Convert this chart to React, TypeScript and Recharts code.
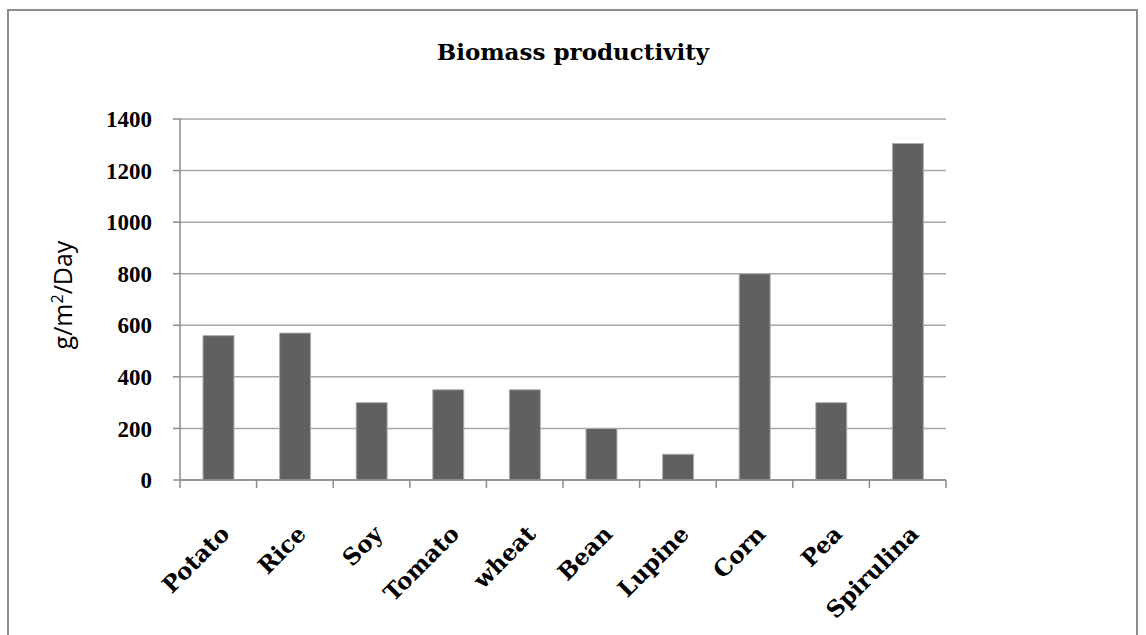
import { BarChart, Bar, XAxis, YAxis, CartesianGrid } from 'recharts';

// Crop names along the x axis
const crops = ['Potato', 'Rice', 'Soy', 'Tomato', 'wheat', 'Bean', 'Lupine', 'Corn', 'Pea', 'Spirulina'];

// Biomass productivity, g/m2/day
const productivity = [560, 570, 300, 350, 350, 200, 100, 800, 300, 1305];

const yTicks = [0, 200, 400, 600, 800, 1000, 1200, 1400];

const data = crops.map((name, i) => ({ name, value: productivity[i] }));

const SERIF = '"Liberation Serif", serif';
const WIDE_SERIF = '"DejaVu Serif", serif';
const AXIS_GREY = '#8c8c8c';
const TICK_SIZE = 6;
const TICK_MARGIN = 2;

// category label + tick marks on the category boundaries (Excel style)
function CropTick(props: any) {
  const { x, y, payload, index } = props;
  const half = payload.offset ?? 0;
  const axisY = y - TICK_SIZE - TICK_MARGIN;
  const ax = x;
  const ay = y + 35;
  const last = index === crops.length - 1;
  return (
    <g>
      <line x1={x - half} y1={axisY} x2={x - half} y2={axisY + 8} stroke={AXIS_GREY} strokeWidth={1.5} />
      {last && <line x1={x + half} y1={axisY} x2={x + half} y2={axisY + 8} stroke={AXIS_GREY} strokeWidth={1.5} />}
      <text
        x={ax}
        y={ay}
        transform={`rotate(-45, ${ax}, ${ay})`}
        textAnchor="end"
        dominantBaseline="hanging"
        fontFamily={WIDE_SERIF}
        fontWeight="bold"
        fontSize={23}
        fill="#000"
      >
        {payload.value}
      </text>
    </g>
  );
}

export default function App() {
  return (
    <div style={{ position: 'absolute', left: 0, top: 0, width: 1146, height: 635, background: '#fff', overflow: 'hidden' }}>
      {/* outer chart frame */}
      <div
        style={{
          position: 'absolute',
          left: 7,
          top: 9,
          width: 1131,
          height: 700,
          border: '2px solid #8c8c8c',
          boxSizing: 'border-box',
        }}
      />

      {/* Title */}
      <div
        style={{
          position: 'absolute',
          left: 0,
          width: 1146,
          top: 38,
          textAlign: 'center',
          fontFamily: WIDE_SERIF,
          fontWeight: 'bold',
          fontSize: 23,
          color: '#000',
        }}
      >
        Biomass productivity
      </div>

      {/* Y axis title */}
      <div
        style={{
          position: 'absolute',
          left: 62,
          top: 295,
          transform: 'translate(-50%, -50%) rotate(-90deg)',
          whiteSpace: 'nowrap',
          fontFamily: '"Open Sans", "Noto Sans", sans-serif',
          fontSize: 25,
          lineHeight: 1,
          color: '#000',
        }}
      >
        g/m<sup style={{ fontSize: 16 }}>2</sup>/Day
      </div>

      <div style={{ position: 'absolute', left: 0, top: 0 }}>
        <BarChart
          width={1146}
          height={635}
          data={data}
          margin={{ top: 119, right: 200, bottom: 35, left: 100 }}
          barCategoryGap="30%"
        >
          <CartesianGrid vertical={false} stroke="#a6a6a6" strokeWidth={1.5} />
          <XAxis
            dataKey="name"
            height={120}
            interval={0}
            stroke={AXIS_GREY}
            strokeWidth={1.5}
            tickLine={false}
            tickSize={TICK_SIZE}
            tickMargin={TICK_MARGIN}
            tick={<CropTick />}
          />
          <YAxis
            width={80}
            domain={[0, 1400]}
            ticks={yTicks}
            interval={0}
            stroke={AXIS_GREY}
            strokeWidth={1.5}
            tickSize={7}
            tickMargin={21}
            tick={{ fontFamily: SERIF, fontWeight: 'bold', fontSize: 23, fill: '#000' }}
          />
          <Bar dataKey="value" fill="#606060" stroke="#b0b0b0" strokeWidth={1} isAnimationActive={false} />
        </BarChart>
      </div>
    </div>
  );
}
